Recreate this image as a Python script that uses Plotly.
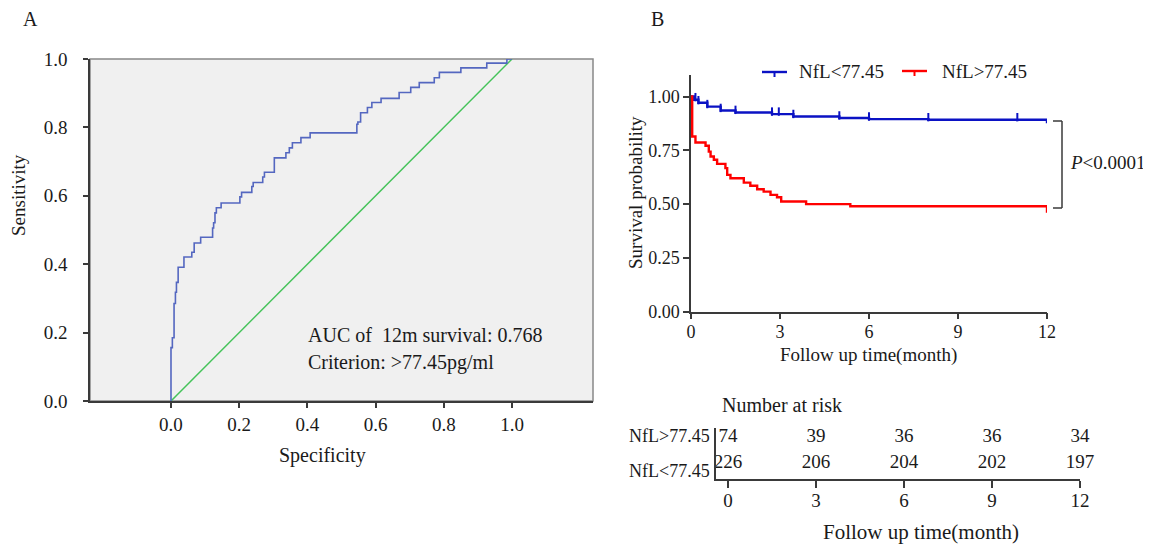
import plotly.graph_objects as go

W, H = 1151, 545          # reference picture size
OFF = 8                   # page body margin of the browser
FW, FH = W - OFF, H - OFF # figure size so it fits the window exactly
FONT = "Liberation Serif, Times New Roman, serif"
TXT = "#1a1a1a"

# ---------------- Data ----------------
# ROC curve (1 - specificity on x as drawn, sensitivity on y)
roc_fpr = [0, 0, 0.004, 0.009, 0.013, 0.016, 0.021, 0.038, 0.061, 0.068, 0.087,
           0.122, 0.125, 0.129, 0.133, 0.147, 0.202, 0.207, 0.237, 0.241, 0.269,
           0.274, 0.303, 0.337, 0.347, 0.356, 0.381, 0.408, 0.545, 0.548, 0.556,
           0.576, 0.589, 0.616, 0.669, 0.703, 0.728, 0.772, 0.787, 0.850, 0.926,
           0.985, 1.0]
roc_tpr = [0, 0.156, 0.185, 0.285, 0.318, 0.347, 0.391, 0.421, 0.435, 0.462, 0.479,
           0.506, 0.521, 0.550, 0.565, 0.579, 0.597, 0.610, 0.627, 0.639, 0.655,
           0.669, 0.711, 0.726, 0.740, 0.755, 0.770, 0.784, 0.809, 0.816, 0.843,
           0.858, 0.873, 0.885, 0.902, 0.917, 0.931, 0.945, 0.961, 0.974, 0.988,
           1.0, 1.0]
diag = [0, 1]
roc_ticks = [0.0, 0.2, 0.4, 0.6, 0.8, 1.0]
roc_ticktext = ["0.0", "0.2", "0.4", "0.6", "0.8", "1.0"]

# Kaplan-Meier curves
low_t = [0, 0.1, 0.25, 0.55, 1.0, 1.5, 2.73, 3.45, 5.0, 6.0, 8.0, 12.0]
low_s = [1.0, 0.985, 0.971, 0.953, 0.935, 0.926, 0.918, 0.907, 0.900, 0.895, 0.892, 0.876]
low_cens_t = [0.15, 0.25, 0.55, 1.0, 1.5, 2.73, 2.96, 3.45, 5.0, 6.0, 8.0, 11.0]

high_t = [0, 0.04, 0.15, 0.49, 0.6, 0.66, 0.77, 0.88, 1.16, 1.22, 1.33, 1.78, 2.0,
          2.23, 2.45, 2.68, 2.9, 3.04, 3.88, 5.37, 12.0]
high_s = [1.0, 0.814, 0.786, 0.771, 0.744, 0.721, 0.706, 0.687, 0.667, 0.636, 0.620,
          0.600, 0.585, 0.569, 0.558, 0.543, 0.532, 0.512, 0.500, 0.490, 0.460]

km_xticks = [0, 3, 6, 9, 12]
km_yticks = [0.0, 0.25, 0.5, 0.75, 1.0]

# Number at risk
risk_times = [0, 3, 6, 9, 12]
risk_high = [74, 39, 36, 36, 34]
risk_low = [226, 206, 204, 202, 197]
risk_rows = ["NfL&gt;77.45", "NfL&lt;77.45"]

BLUE = "#0b12c4"
RED = "#ff0000"
ROC_BLUE = "#5467c0"
GREEN = "#45c35a"


def px(x):
    return (x - OFF) / FW


def py(y):
    return 1 - (y - OFF) / FH


def step_value(ts, ss, t):
    v = ss[0]
    for ti, si in zip(ts, ss):
        if ti <= t:
            v = si
    return v


fig = go.Figure()

# ---------------- Panel A: ROC ----------------
fig.add_trace(go.Scatter(x=diag, y=diag, mode="lines",
                         line=dict(color=GREEN, width=1.5),
                         xaxis="x", yaxis="y", hoverinfo="skip"))
fig.add_trace(go.Scatter(x=roc_fpr, y=roc_tpr, mode="lines",
                         line=dict(color=ROC_BLUE, width=1.6, shape="hv"),
                         xaxis="x", yaxis="y"))

# ---------------- Panel B: KM ----------------
fig.add_trace(go.Scatter(x=low_t, y=low_s, mode="lines",
                         line=dict(color=BLUE, width=2.4, shape="hv"),
                         xaxis="x2", yaxis="y2"))
fig.add_trace(go.Scatter(x=high_t, y=high_s, mode="lines",
                         line=dict(color=RED, width=2.4, shape="hv"),
                         xaxis="x2", yaxis="y2"))
cens_y = [step_value(low_t, low_s, t) + 0.012 for t in low_cens_t]
fig.add_trace(go.Scatter(x=low_cens_t, y=cens_y, mode="markers",
                         marker=dict(symbol="line-ns", size=6,
                                     line=dict(color=BLUE, width=2)),
                         xaxis="x2", yaxis="y2", cliponaxis=False))

# ---------------- Risk table ----------------
fig.add_trace(go.Scatter(x=risk_times, y=[0.82] * len(risk_times),
                         text=[str(v) for v in risk_high], mode="text",
                         textfont=dict(size=19, color=TXT, family=FONT),
                         xaxis="x3", yaxis="y3", cliponaxis=False))
fig.add_trace(go.Scatter(x=risk_times, y=[0.30] * len(risk_times),
                         text=[str(v) for v in risk_low], mode="text",
                         textfont=dict(size=19, color=TXT, family=FONT),
                         xaxis="x3", yaxis="y3", cliponaxis=False))

AX = "#3a3a3a"
common = dict(showgrid=False, zeroline=False, automargin=False, showline=True,
              linecolor=AX, linewidth=1.5, tickcolor=AX, tickwidth=1.5)
fig.update_layout(
    template="none",
    width=FW, height=FH, margin=dict(l=0, r=0, t=0, b=0, pad=0),
    paper_bgcolor="white", plot_bgcolor="white", showlegend=False,
    font=dict(family=FONT, color=TXT, size=18),
    xaxis=dict(domain=[px(90), px(593)], range=[-0.2375, 1.2375], anchor="y",
               tickvals=roc_ticks, ticktext=roc_ticktext, ticks="outside",
               ticklen=5, tickfont=dict(size=19), ticklabelstandoff=0, **common),
    yaxis=dict(domain=[py(401), py(59)], range=[0, 1], anchor="x",
               tickvals=roc_ticks, ticktext=roc_ticktext, ticks="outside",
               ticklen=5, tickfont=dict(size=19), ticklabelstandoff=12, **common),
    xaxis2=dict(domain=[px(691), px(1047)], range=[0, 12], anchor="y2",
                tickvals=km_xticks, ticks="outside", ticklen=6,
                tickfont=dict(size=18), ticklabelstandoff=-3, **common),
    yaxis2=dict(domain=[py(311.7), py(75)], range=[0, 1.1], anchor="x2",
                tickvals=km_yticks, tickformat=".2f", ticks="outside", ticklen=6,
                tickfont=dict(size=18), ticklabelstandoff=0, **common),
    xaxis3=dict(domain=[px(716), px(1080)], range=[-0.409, 12], anchor="y3",
                tickvals=risk_times, ticks="outside", ticklen=7,
                tickfont=dict(size=19), ticklabelstandoff=-4, **common),
    yaxis3=dict(domain=[py(479), py(428)], range=[0, 1], anchor="x3",
                tickvals=[0.84, 0.16], ticktext=risk_rows, ticks="",
                tickfont=dict(size=18), ticklabelstandoff=1, **common),
)

shapes = [
    # ROC panel background and frame
    dict(type="rect", xref="x domain", yref="y domain", x0=0, x1=1, y0=0, y1=1,
         fillcolor="#f0f0f0", line=dict(color="#888888", width=1.5), layer="below"),
    # legend symbols
    dict(type="line", xref="paper", yref="paper", x0=px(762), x1=px(787),
         y0=py(72), y1=py(72), line=dict(color=BLUE, width=2.4)),
    dict(type="line", xref="paper", yref="paper", x0=px(774.5), x1=px(774.5),
         y0=py(72), y1=py(77), line=dict(color=BLUE, width=2)),
    dict(type="line", xref="paper", yref="paper", x0=px(902), x1=px(927),
         y0=py(71), y1=py(71), line=dict(color=RED, width=2.4)),
    dict(type="line", xref="paper", yref="paper", x0=px(914.5), x1=px(914.5),
         y0=py(71), y1=py(76), line=dict(color=RED, width=2)),
    # p-value bracket
    dict(type="line", xref="paper", yref="paper", x0=px(1062), x1=px(1062),
         y0=py(121), y1=py(208), line=dict(color=AX, width=1.5)),
    dict(type="line", xref="paper", yref="paper", x0=px(1053), x1=px(1062),
         y0=py(121), y1=py(121), line=dict(color=AX, width=1.5)),
    dict(type="line", xref="paper", yref="paper", x0=px(1053), x1=px(1062),
         y0=py(208), y1=py(208), line=dict(color=AX, width=1.5)),
]
fig.update_layout(shapes=shapes)


def ann(text, x, y, size=19, xanchor="center", yanchor="middle", angle=0):
    return dict(text=text, x=px(x), y=py(y), xref="paper", yref="paper",
                showarrow=False, xanchor=xanchor, yanchor=yanchor, textangle=angle,
                font=dict(family=FONT, size=size, color=TXT))


annotations = [
    ann("A", 30, 19, size=20),
    ann("B", 657, 19, size=20),
    ann("Sensitivity", 18, 195, size=19, angle=-90),
    ann("Specificity", 322, 455, size=20),
    ann("AUC of  12m survival: 0.768", 306, 335, size=20, xanchor="left"),
    ann("Criterion: &gt;77.45pg/ml", 306, 362, size=20, xanchor="left"),
    ann("NfL&lt;77.45", 797, 71, size=19, xanchor="left"),
    ann("NfL&gt;77.45", 940, 71, size=19, xanchor="left"),
    ann("<i>P</i>&lt;0.0001", 1068, 163, size=19, xanchor="left"),
    ann("Survival probability", 635, 193, size=19, angle=-90),
    ann("Follow up time(month)", 868, 355, size=19),
    ann("Number at risk", 720, 405, size=20, xanchor="left"),
    ann("Follow up time(month)", 921, 532, size=21),
]
fig.update_layout(annotations=annotations)

fig.write_html("out.html")
